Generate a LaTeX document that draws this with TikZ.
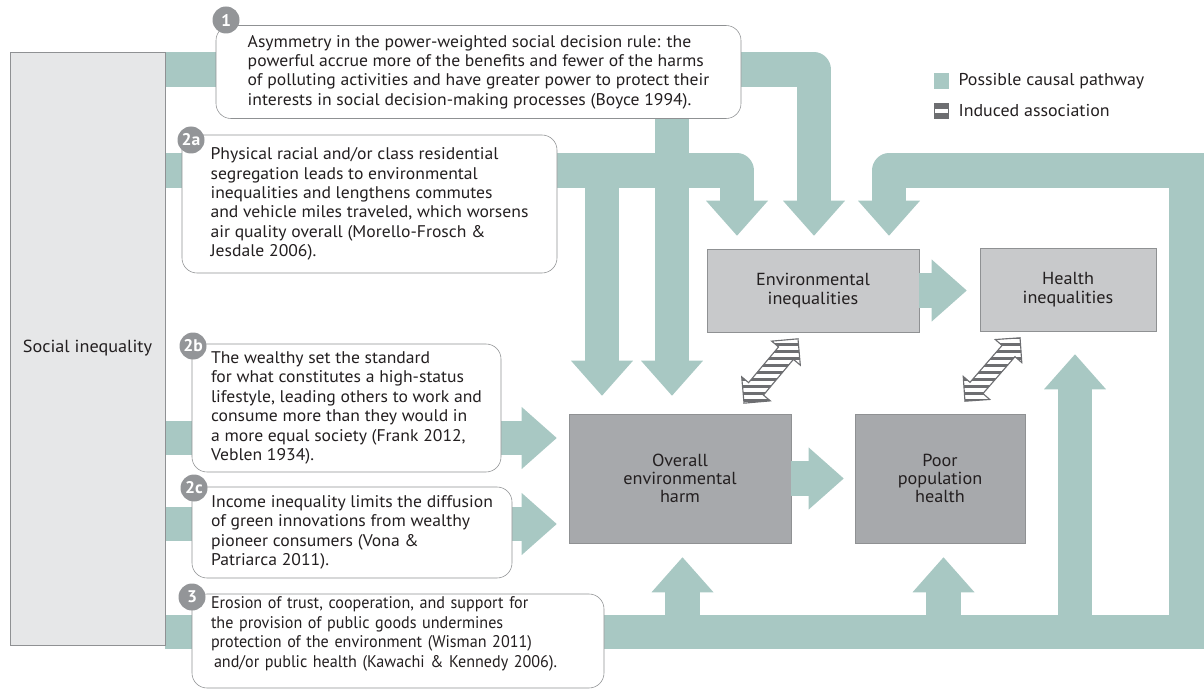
\documentclass[tikz,border=0pt]{standalone}
\usepackage{fontspec}
\setmainfont{PT Sans}[FakeStretch=1.045]
\newfontfamily\narrowsans[FakeStretch=0.955]{PT Sans}
\usetikzlibrary{arrows.meta,positioning,shapes.arrows,patterns.meta}
\newdimen\px
\px=0.025cm
\definecolor{pathteal}{HTML}{A8C8C3}
\definecolor{socialfill}{HTML}{E6E7E8}
\definecolor{lightbox}{HTML}{C8C9CB}
\definecolor{darkbox}{HTML}{A7A9AC}
\definecolor{boxedge}{HTML}{8F9193}
\definecolor{badgegray}{HTML}{939598}
\definecolor{assocgray}{HTML}{6D6E71}
\definecolor{inktext}{HTML}{231F20}
\pgfdeclarelayer{back}
\pgfsetlayers{back,main}
\tikzset{
	pathway/.style={draw=pathteal, line width=24.2pt, line join=round},
	pathtip/.style={-{Triangle[length=24.9pt, width=44.1pt, line width=0pt]}},
	statebox/.style={draw=boxedge, text=inktext, inner sep=0pt, align=center, font=\fontsize{12.4}{13}\selectfont},
	callout/.style={draw=boxedge, fill=white, rounded corners=15\px, align=left, inner sep=0pt, text=inktext, font=\fontsize{12}{13.8}\selectfont},
	badge/.style={circle, fill=badgegray, text=white, inner sep=0pt, minimum size=27\px, font=\bfseries\fontsize{12}{12}\selectfont},
	assoc/.style={double arrow, double arrow head extend=9\px, draw=assocgray, line width=0.8pt, inner sep=8\px, minimum height=84\px, preaction={fill=white}, pattern={Lines[angle=0, distance=5pt, line width=2.4pt]}, pattern color=assocgray},
	legbox/.style={minimum width=15\px, minimum height=16\px, inner sep=0pt},
	legtext/.style={inner sep=0pt, text=inktext, font=\fontsize{12.2}{13.8}\selectfont}
}
\begin{document}
\begin{tikzpicture}[x=0.025cm, y=-0.025cm]
			%%%%% START %%%%%
			\useasboundingbox (0,0) rectangle (1204,689);
			
			\node[statebox, fill=socialfill, minimum width=155\px, minimum height=593\px] (social) at (87.5,348.5) {Social inequality};
			\node[statebox, fill=lightbox, minimum width=212\px, minimum height=83\px] (envineq) at (813,290.5) {Environmental\\inequalities};
			\node[statebox, fill=lightbox, minimum width=176\px, minimum height=83\px] (healthineq) at (1068,289.5) {Health\\inequalities};
			\node[statebox, fill=darkbox, minimum width=222\px, minimum height=129\px] (overall) at (680,478.5) {Overall\\environmental\\harm};
			\node[statebox, fill=darkbox, minimum width=170\px, minimum height=129\px] (poor) at (940,478.5) {Poor\\population\\health};
			
			\node[callout, minimum width=525\px, minimum height=93\px] (c1) at (478.5,72) {Asymmetry in the power-weighted social decision rule: the\\powerful accrue more of the benefits and fewer of the harms\\of polluting activities and have greater power to protect their\\interests in social decision-making processes (Boyce 1994).};
			\node[callout, minimum width=375\px, minimum height=138\px] (c2a) at (369.5,204) {Physical racial and/or class residential\\segregation leads to environmental\\inequalities and lengthens commutes\\and vehicle miles traveled, which worsens\\air quality overall (Morello-Frosch \&\\Jesdale 2006).};
			\node[callout, minimum width=309\px, minimum height=128\px] (c2b) at (346.5,408) {The wealthy set the standard\\for what constitutes a high-status\\lifestyle, leading others to work and\\consume more than they would in\\a more equal society (Frank 2012,\\Veblen 1934).};
			\node[callout, minimum width=320\px, minimum height=91\px] (c2c) at (352,532.5) {Income inequality limits the diffusion\\of green innovations from wealthy\\pioneer consumers (Vona \&\\Patriarca 2011).};
			\node[callout, minimum width=412\px, minimum height=94\px, text width=374\px, text depth=76\px, font=\narrowsans\fontsize{12}{13.8}\selectfont] (c3) at (398,641) {Erosion of trust, cooperation, and support for\\the provision of public goods undermines\\protection of the environment (Wisman 2011)\\\hspace*{3\px}and/or public health (Kawachi \& Kennedy 2006).};
			
			\node[badge] (b1) at (226,20) {1};
			\node[badge] (b2a) at (191,140) {2a};
			\node[badge] (b2b) at (193,346) {2b};
			\node[badge] (b2c) at (194,488) {2c};
			\node[badge] (b3) at (192,597) {3};
			
			\begin{pgfonlayer}{back}
			\draw[pathway, pathtip, shorten >=13\px] (social.east |- 0,69.5) -- (814,69.5) -- (814,0 |- envineq.north);
			\draw[pathway, pathtip, shorten >=18\px] (672,69.5) -- (672,0 |- overall.north);
			
			\draw[pathway, pathtip, shorten >=13\px] (social.east |- 0,170.5) -- (737,170.5) -- (737,0 |- envineq.north);
			\draw[pathway, pathtip, shorten >=18\px] (602,170.5) -- (602,0 |- overall.north);
			
			\draw[pathway, pathtip, shorten >=12\px] (social.east |- 0,438) -- (overall.west |- 0,438);
			\draw[pathway, pathtip, shorten >=12\px] (social.east |- 0,524) -- (overall.west |- 0,524);
			
			\draw[pathway, line join=miter] (social.east |- 0,632) -- (1186.5,632) -- (1186.5,170.5) -- (889,170.5);
			\draw[pathway, pathtip, shorten >=13\px] (900,170.5) -- (889,170.5) -- (889,0 |- envineq.north);
			\draw[pathway, pathtip, shorten >=14\px] (682.5,632) -- (682.5,0 |- overall.south);
			\draw[pathway, pathtip, shorten >=14\px] (943.5,632) -- (943.5,0 |- poor.south);
			\draw[pathway, pathtip, shorten >=23\px] (1075,632) -- (1075,0 |- healthineq.south);
			\end{pgfonlayer}
			
			\draw[pathway, pathtip, shorten >=13\px] (envineq.east) -- (envineq.east -| healthineq.west);
			\draw[pathway, pathtip, shorten >=11\px] (overall.east) -- (poor.west);
			
			\node[assoc, rotate=50] (assocenv) at (771,371) {};
			\node[assoc, rotate=49] (assochealth) at (992.5,369.5) {};
			
			\node[legbox, fill=pathteal] (legpath) at (941.5,81) {};
			\node[legtext, right=9\px of legpath] (legpathtext) {Possible causal pathway};
			\node[legbox, fill=assocgray] (legassoc) at (941.5,111) {};
			\fill[white] (935,109) rectangle (948,113);
			\node[legtext, right=9\px of legassoc] (legassoctext) {Induced association};
			
			%%%%% END %%%%%
\end{tikzpicture}
\end{document}
